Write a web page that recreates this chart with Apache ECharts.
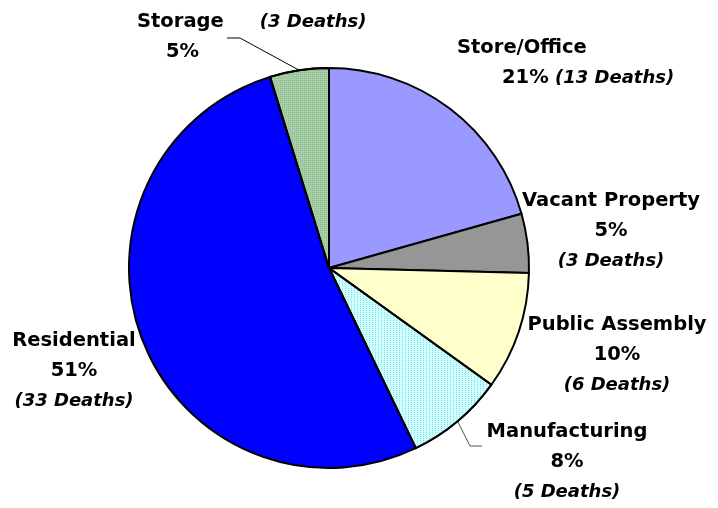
<!DOCTYPE html>
<html>
<head>
<meta charset="utf-8">
<script src="https://cdn.jsdelivr.net/npm/echarts@6/dist/echarts.min.js"></script>
<style>
  html, body { margin: 0; padding: 0; background: #fff; }
  #chart { width: 718px; height: 508px; }
</style>
</head>
<body>
<div id="chart"></div>
<script>
// slices clockwise from 12 o'clock
const categories = ["Store/Office", "Vacant Property", "Public Assembly", "Manufacturing", "Residential", "Storage"];
const deaths = [13, 3, 6, 5, 33, 3];
const percentLabels = ["21%", "5%", "10%", "8%", "51%", "5%"];

const colors = ["#9999FF", "#969696", "#FFFFCC", "#CCFFFF", "#0000FF", "#A8D0A8"];

// label anchor per slice: [x, y, align]
const labelPos = [
	[457, 33, "left"],
	[611, 231, "center"],
	[617, 355, "center"],
	[567, 462, "center"],
	[74, 371, "center"],
	[137, 7, "left"],
];

// leader line bends (only two slices have one): [elbow, end]
const leaderBends = {
	Storage: [[240, 38], [227, 38]],
	Manufacturing: [[470, 446], [482, 446]],
};

const font = "DejaVu Sans";
const rich = {
	n: { fontFamily: font, fontWeight: "bold", fontSize: 19.5, color: "#000", lineHeight: 30 },
	p: { fontFamily: font, fontWeight: "bold", fontSize: 19.5, color: "#000", lineHeight: 30 },
	d: { fontFamily: font, fontWeight: "bold", fontStyle: "italic", fontSize: 18, color: "#000", lineHeight: 30 },
	s1: { width: 45, lineHeight: 30 },
	s2: { width: 36, lineHeight: 30 },
	s3: { width: 29, lineHeight: 30 },
};

const labelText = (i) => {
	const name = categories[i];
	const pct = percentLabels[i];
	const d = "(" + deaths[i] + " Deaths)";
	if (name === "Store/Office") return `{n|${name}}\n{s1| }{p|${pct}}{d| ${d}}`;
	if (name === "Storage") return `{n|${name}}{s2| }{d|${d}}\n{s3| }{p|${pct}}`;
	return `{n|${name}}\n{p|${pct}}\n{d|${d}}`;
};

const decals = {
	Manufacturing: { symbol: "rect", symbolSize: 1, dashArrayX: [1, 2], dashArrayY: [1, 1], color: "rgba(90,170,170,0.45)" },
	Storage: { symbol: "rect", symbolSize: 1, dashArrayX: [1, 1], dashArrayY: [1, 1], color: "rgba(110,160,110,0.45)" },
};

const chart = echarts.init(document.getElementById("chart"));

chart.setOption({
	animation: false,
	series: [
		{
			type: "pie",
			center: [329, 268],
			radius: 200,
			startAngle: 90,
			clockwise: true,
			avoidLabelOverlap: false,
			itemStyle: { borderColor: "#000", borderWidth: 2 },
			emphasis: { disabled: true },
			label: {
				show: true,
				rich: rich,
				formatter: (p) => labelText(p.dataIndex),
			},
			labelLine: { show: false },
			labelLayout: (params) => {
				const pos = labelPos[params.dataIndex];
				const out = {
					x: pos[0],
					y: pos[1],
					align: pos[2],
					verticalAlign: pos[2] === "left" ? "top" : "middle",
				};
				const bends = leaderBends[categories[params.dataIndex]];
				if (bends && params.labelLinePoints) {
					out.labelLinePoints = [params.labelLinePoints[0], bends[0], bends[1]];
				}
				return out;
			},
			data: categories.map((name, i) => ({
				name: name,
				value: deaths[i],
				itemStyle: {
					color: colors[i],
					decal: decals[name] || null,
				},
				labelLine: leaderBends[name]
					? { show: true, length: 10, length2: 12, lineStyle: { color: name === "Storage" ? "#000" : "#555", width: 1 } }
					: { show: false },
			})),
		},
	],
});
</script>
</body>
</html>
